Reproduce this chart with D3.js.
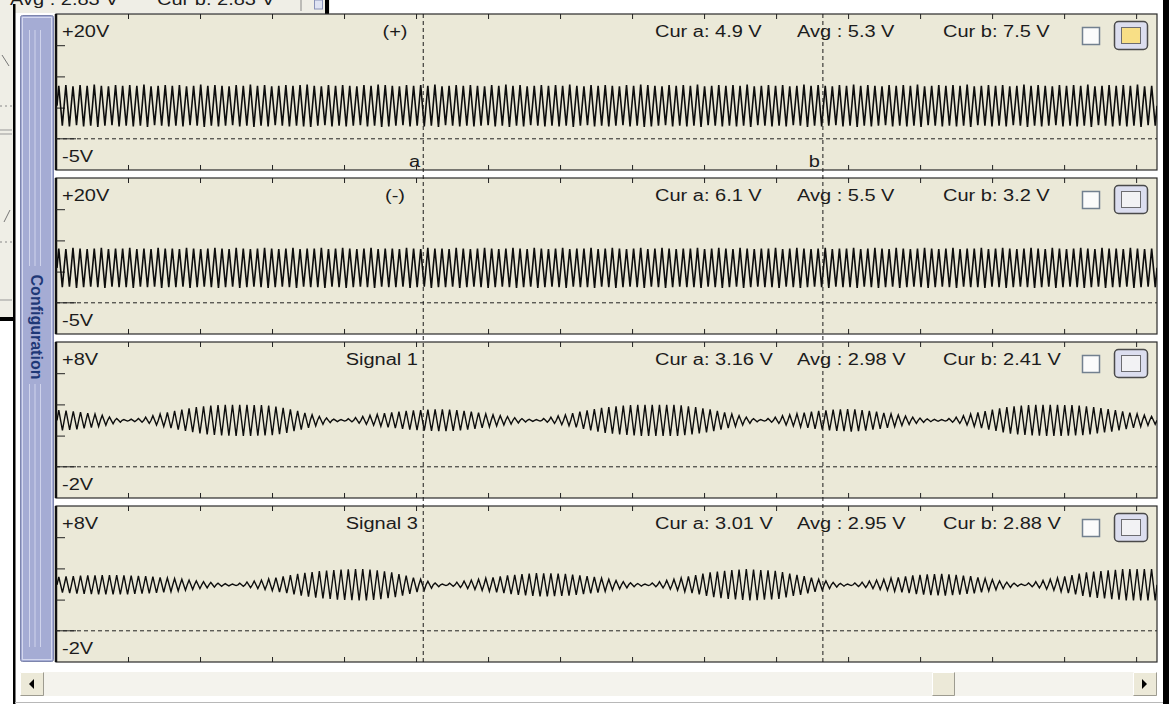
<!DOCTYPE html>
<html>
<head>
<meta charset="utf-8">
<script src="https://cdn.jsdelivr.net/npm/d3@7"></script>
<style>
  body { margin: 0; background: #fff; overflow: hidden; }
  text { font-family: "Liberation Sans", Arial, sans-serif; font-size: 16px; fill: #1c1c1c; }
</style>
</head>
<body>
<svg id="scope" width="1169" height="704"></svg>
<script>
// channel settings and readouts
const panelNames = ["(+)", "(-)", "Signal 1", "Signal 3"];
const rangeTop = [20, 20, 8, 8];
const rangeBottom = [-5, -5, -2, -2];
const topLabels = ["+20V", "+20V", "+8V", "+8V"];
const bottomLabels = ["-5V", "-5V", "-2V", "-2V"];
const gridVolts = [[15, 10, 5], [15, 10, 5], [6, 4, 2], [6, 4, 2]];
const curA = ["Cur a: 4.9 V", "Cur a: 6.1 V", "Cur a: 3.16 V", "Cur a: 3.01 V"];
const avgText = ["Avg  : 5.3 V", "Avg  : 5.5 V", "Avg  : 2.98 V", "Avg  : 2.95 V"];
const curB = ["Cur b: 7.5 V", "Cur b: 3.2 V", "Cur b: 2.41 V", "Cur b: 2.88 V"];
const means = [5.3, 5.6, 2.98, 2.95];
const timeTicks = [1, 2, 3, 4, 5, 6, 7, 8, 9, 10, 11, 12, 13, 14, 15];
const cursorNames = ["a", "b"];
const cursorTimes = [5.1, 10.65];

// peak amplitude of every cycle (V)
const amp1 = [
  3.2,3.3,3.1,3.3,3.2,3.4,3.2,3.1,3.3,3.2, 3.3,3.2,3.4,3.1,3.2,3.3,3.2,3.3,3.1,3.2,
  3.4,3.2,3.3,3.2,3.1,3.3,3.2,3.4,3.2,3.3, 3.1,3.2,3.3,3.2,3.3,3.4,3.2,3.1,3.3,3.2,
  3.3,3.2,3.1,3.3,3.2,3.4,3.3,3.2,3.1,3.3, 3.2,3.3,3.2,3.4,3.1,3.2,3.3,3.2,3.3,3.2,
  3.1,3.3,3.2,3.4,3.2,3.3,3.1,3.2,3.3,3.2, 3.3,3.2,3.4,3.2,3.1,3.3,3.2,3.3,3.2,3.1,
  3.3,3.2,3.4,3.3,3.2,3.1,3.3,3.2,3.3,3.2, 3.4,3.1,3.2,3.3,3.2,3.3,3.2,3.4,3.1,3.2,
  3.3,3.2,3.3,3.1,3.2,3.4,3.2,3.3,3.2,3.1, 3.3,3.2,3.4,3.2,3.3,3.2,3.1,3.3,3.2,3.3,
  3.2,3.4,3.1,3.2,3.3,3.2,3.3,3.2,3.4,3.1, 3.2,3.3,3.2,3.3,3.1,3.2,3.4,3.2,3.3,3.2,
  3.1,3.3,3.2,3.3,3.2,3.4,3.1,3.2,3.3,3.2, 3.3,3.2,3.4,3.1,3.2
];
const amp2 = [
  3.1,3.0,3.2,3.1,3.0,3.1,3.2,3.0,3.1,3.1, 3.2,3.0,3.1,3.0,3.2,3.1,3.1,3.0,3.2,3.1,
  3.0,3.1,3.2,3.1,3.0,3.2,3.1,3.0,3.1,3.2, 3.1,3.0,3.1,3.2,3.0,3.1,3.1,3.2,3.0,3.1,
  3.2,3.1,3.0,3.1,3.2,3.0,3.1,3.1,3.0,3.2, 3.1,3.0,3.2,3.1,3.1,3.0,3.2,3.1,3.0,3.1,
  3.2,3.1,3.0,3.1,3.2,3.1,3.0,3.2,3.1,3.0, 3.1,3.2,3.0,3.1,3.1,3.2,3.0,3.1,3.2,3.1,
  3.0,3.1,3.2,3.0,3.1,3.2,3.1,3.0,3.1,3.1, 3.2,3.0,3.1,3.2,3.1,3.0,3.2,3.1,3.0,3.1,
  3.1,3.2,3.0,3.1,3.2,3.1,3.0,3.1,3.2,3.0, 3.1,3.1,3.2,3.0,3.1,3.2,3.1,3.0,3.2,3.1,
  3.0,3.1,3.2,3.1,3.0,3.1,3.2,3.0,3.1,3.1, 3.2,3.0,3.1,3.2,3.1,3.0,3.1,3.2,3.1,3.0,
  3.2,3.1,3.0,3.1,3.2,3.1,3.0,3.2,3.1,3.1, 3.0,3.2,3.1,3.0,3.1
];
const amp3 = [
  .65,.62,.58,.52,.46,.40,.32,.22,.12,.05, .08,.12,.20,.30,.40,.50,.60,.68,.76,.84,
  .90,.94,.97,.99,1.0,1.0,1.0,.98,.97,.95, .88,.80,.70,.60,.48,.36,.25,.15,.08,.05,
  .10,.18,.25,.32,.38,.45,.50,.55,.60,.63, .66,.68,.70,.70,.68,.65,.60,.55,.49,.42,
  .36,.30,.24,.17,.11,.07,.05,.12,.20,.28, .35,.45,.55,.64,.72,.80,.85,.90,.94,.97,
  1.0,1.0,1.0,1.0,1.0,1.0,.96,.90,.84,.77, .70,.60,.50,.40,.30,.20,.10,.05,.12,.20,
  .30,.36,.43,.49,.55,.60,.64,.68,.70,.72, .70,.66,.60,.55,.48,.41,.34,.27,.20,.14,
  .09,.06,.05,.12,.20,.30,.40,.50,.59,.68, .77,.85,.90,.94,.97,.99,1.0,1.0,1.0,.98,
  .97,.95,.90,.84,.78,.72,.65,.57,.49,.41, .33,.25
];
const amp4 = [
  .50,.53,.56,.58,.60,.61,.62,.62,.62,.61, .59,.57,.55,.52,.48,.44,.40,.35,.30,.25,
  .20,.15,.10,.07,.05,.10,.18,.24,.30,.38, .46,.54,.62,.70,.76,.82,.87,.91,.95,.97,
  .99,1.0,1.0,.97,.92,.86,.80,.69,.58,.46, .35,.22,.12,.05,.10,.17,.24,.30,.36,.42,
  .48,.54,.60,.64,.68,.72,.75,.74,.73,.72, .70,.65,.60,.55,.50,.42,.35,.27,.20,.13,
  .08,.05,.12,.20,.28,.35,.44,.53,.62,.71, .80,.85,.90,.94,.97,1.0,.98,.95,.93,.90,
  .81,.72,.64,.55,.45,.35,.25,.15,.09,.05, .11,.17,.24,.30,.36,.42,.48,.54,.60,.63,
  .66,.68,.70,.67,.63,.59,.55,.48,.40,.33, .25,.17,.10,.05,.12,.20,.28,.35,.44,.53,
  .62,.71,.80,.84,.88,.92,.96,1.0,1.0,1.0, 1.0,1.0
];
const amps = [amp1, amp2, amp3, amp4];

// layout
const plotLeft = 56, plotRight = 1157;
const svg = d3.select("#scope");

const band = d3.scaleBand()
    .domain(d3.range(panelNames.length))
    .range([14, 662])
    .paddingInner(0.0488);

const x = d3.scaleLinear()
    .domain([0, 15.29])
    .range([plotLeft, plotRight]);

function label(sel, tx, ty, s, anchor) {
  return sel.append("text")
    .attr("transform", `translate(${tx},${ty}) scale(1.25,1)`)
    .attr("text-anchor", anchor || "start")
    .text(s);
}

// window behind (top-left strip)
svg.append("rect").attr("x", 0).attr("y", 0).attr("width", 330).attr("height", 13).attr("fill", "#efeee6");
svg.append("rect").attr("x", 0).attr("y", 0).attr("width", 13).attr("height", 320).attr("fill", "#efeee6");
const back = svg.append("g");
label(back, 10, 5, "Avg  : 2.83 V");
label(back, 157, 5, "Cur b: 2.83 V");
back.append("line").attr("x1", 301).attr("x2", 301).attr("y1", 0).attr("y2", 11).attr("stroke", "#888");
back.append("rect").attr("x", 314.5).attr("y", 0).attr("width", 8).attr("height", 9).attr("fill", "#dfe3f2").attr("stroke", "#8a93b8");
back.append("rect").attr("x", 325).attr("y", 0).attr("width", 4).attr("height", 14).attr("fill", "#000");
[[0, 130, 12, 130], [0, 134, 12, 134], [0, 300, 12, 300]].forEach(l =>
  back.append("line").attr("x1", l[0]).attr("y1", l[1]).attr("x2", l[2]).attr("y2", l[3]).attr("stroke", "#999"));
[[0, 106, 12, 106], [0, 242, 12, 242]].forEach(l =>
  back.append("line").attr("x1", l[0]).attr("y1", l[1]).attr("x2", l[2]).attr("y2", l[3])
    .attr("stroke", "#888").attr("stroke-dasharray", "2,3"));
back.append("path").attr("d", "M2,55 L9,66").attr("stroke", "#777").attr("fill", "none");
back.append("path").attr("d", "M4,222 L10,210").attr("stroke", "#777").attr("fill", "none");
back.append("rect").attr("x", 0).attr("y", 317).attr("width", 14).attr("height", 4).attr("fill", "#000");

// outer frame
svg.append("rect").attr("x", 13).attr("y", 4).attr("width", 2.5).attr("height", 700).attr("fill", "#000");
svg.append("rect").attr("x", 1163).attr("y", 0).attr("width", 6).attr("height", 704).attr("fill", "#000");
svg.append("line").attr("x1", 15).attr("x2", 1163).attr("y1", 702.5).attr("y2", 702.5).attr("stroke", "#b8b8b8");

// configuration side bar
const cfg = svg.append("g");
cfg.append("rect").attr("x", 20.5).attr("y", 15.5).attr("width", 33).attr("height", 646)
  .attr("rx", 2).attr("fill", "#a5acd4").attr("stroke", "#7d85ad");
cfg.append("rect").attr("x", 22.5).attr("y", 17.5).attr("width", 29).attr("height", 642)
  .attr("fill", "none").attr("stroke", "#d4d8ee");
[29.5, 35, 40.5].forEach(lx => {
  cfg.append("line").attr("x1", lx).attr("x2", lx).attr("y1", 30).attr("y2", 266).attr("stroke", "#d0d4ec");
  cfg.append("line").attr("x1", lx).attr("x2", lx).attr("y1", 384).attr("y2", 647).attr("stroke", "#d0d4ec");
});
cfg.append("text")
  .attr("transform", "translate(30.5,327) rotate(90)")
  .attr("text-anchor", "middle")
  .style("font-size", "16px").style("font-weight", "bold").style("fill", "#1f3877")
  .text("Configuration");

// panels
panelNames.forEach((name, k) => {
  const top = band(k), bottom = top + band.bandwidth();
  const g = svg.append("g");
  const y = d3.scaleLinear().domain([rangeBottom[k], rangeTop[k]]).range([bottom, top]);

  g.append("rect").attr("x", plotLeft).attr("y", top).attr("width", plotRight - plotLeft)
    .attr("height", bottom - top).attr("fill", "#ebe9d8").attr("stroke", "#2a2a2a").attr("stroke-width", 1.2);
  g.append("line").attr("x1", plotLeft).attr("x2", plotLeft).attr("y1", top).attr("y2", bottom)
    .attr("stroke", "#111").attr("stroke-width", 2.5);

  g.append("clipPath").attr("id", "clip" + k)
    .append("rect").attr("x", plotLeft).attr("y", top).attr("width", plotRight - plotLeft).attr("height", bottom - top);

  // zero line
  g.append("line").attr("x1", plotLeft).attr("x2", plotRight).attr("y1", y(0)).attr("y2", y(0))
    .attr("stroke", "#222").attr("stroke-dasharray", "4,3");
  g.append("line").attr("x1", plotLeft).attr("x2", plotLeft + 20).attr("y1", y(0)).attr("y2", y(0))
    .attr("stroke", "#222");

  // axes
  const yAxis = g.append("g").attr("transform", `translate(${plotLeft},0)`)
    .call(d3.axisRight(y).tickValues(gridVolts[k]).tickSize(9).tickFormat(""));
  const topAxis = g.append("g").attr("transform", `translate(0,${top})`)
    .call(d3.axisBottom(x).tickValues(timeTicks).tickSize(5).tickFormat(""));
  const botAxis = g.append("g").attr("transform", `translate(0,${bottom})`)
    .call(d3.axisTop(x).tickValues(timeTicks).tickSize(5).tickFormat(""));
  [yAxis, topAxis, botAxis].forEach(a => {
    a.select(".domain").remove();
    a.selectAll("line").attr("stroke", "#222");
  });

  // trace
  const a = amps[k];
  const cx = d3.scaleLinear().domain([0, a.length]).range([plotLeft + 1, plotRight]);
  const pts = [];
  a.forEach((v, i) => {
    pts.push([i, means[k]], [i + 0.25, means[k] + v], [i + 0.5, means[k]], [i + 0.75, means[k] - v]);
  });
  pts.push([a.length, means[k]]);
  g.append("path")
    .datum(pts)
    .attr("clip-path", `url(#clip${k})`)
    .attr("fill", "none")
    .attr("stroke", "#0d0d0d")
    .attr("stroke-width", k < 2 ? 1.6 : 1.4)
    .attr("d", d3.line().x(d => cx(d[0])).y(d => y(d[1])));

  // texts
  label(g, 62, top + 23, topLabels[k]);
  label(g, 62, bottom - 8, bottomLabels[k]);
  if (k < 2) label(g, 395, top + 23, name, "middle");
  else label(g, 418, top + 23, name, "end");
  label(g, 655, top + 23, curA[k]);
  label(g, 797, top + 23, avgText[k]);
  label(g, 943, top + 23, curB[k]);

  // check box and colour button
  g.append("rect").attr("x", 1082.5).attr("y", top + 13.5).attr("width", 17).attr("height", 17)
    .attr("fill", "#fbfbfb").attr("stroke", "#72808f").attr("stroke-width", 1.5);
  g.append("rect").attr("x", 1114.5).attr("y", top + 7.5).attr("width", 33).attr("height", 28)
    .attr("rx", 4).attr("fill", "#dcdeef").attr("stroke", "#4a4a4a").attr("stroke-width", 1.5);
  g.append("rect").attr("x", 1121.5).attr("y", top + 13.5).attr("width", 19).attr("height", 16)
    .attr("fill", k === 0 ? "#f8df86" : "#f2f2f4").attr("stroke", "#6c6c70");
});

// cursors
cursorTimes.forEach((t, i) => {
  svg.append("line").attr("x1", x(t)).attr("x2", x(t)).attr("y1", band(0)).attr("y2", band(3) + band.bandwidth())
    .attr("stroke", "#1a1a1a").attr("stroke-dasharray", "4,3");
  label(svg, x(t) - 3, band(0) + band.bandwidth() - 3, cursorNames[i], "end");
});

// scroll bar
const sb = svg.append("g");
sb.append("rect").attr("x", 44).attr("y", 672).attr("width", 1089).attr("height", 24).attr("fill", "#f4f3ed");
function button(bx, w) {
  sb.append("rect").attr("x", bx).attr("y", 672).attr("width", w).attr("height", 24).attr("fill", "#ece9d8");
  sb.append("path").attr("d", `M${bx + 0.5},695.5 V672.5 H${bx + w - 0.5}`).attr("stroke", "#fff").attr("fill", "none");
  sb.append("path").attr("d", `M${bx + 0.5},695.5 H${bx + w - 0.5} V672.5`).attr("stroke", "#9d9b90").attr("fill", "none");
}
button(20, 24);
button(932, 23);
button(1133, 24);
sb.append("path").attr("d", "M29,684 L34,679 L34,689 Z").attr("fill", "#000");
sb.append("path").attr("d", "M1147,684 L1142,679 L1142,689 Z").attr("fill", "#000");
</script>
</body>
</html>
